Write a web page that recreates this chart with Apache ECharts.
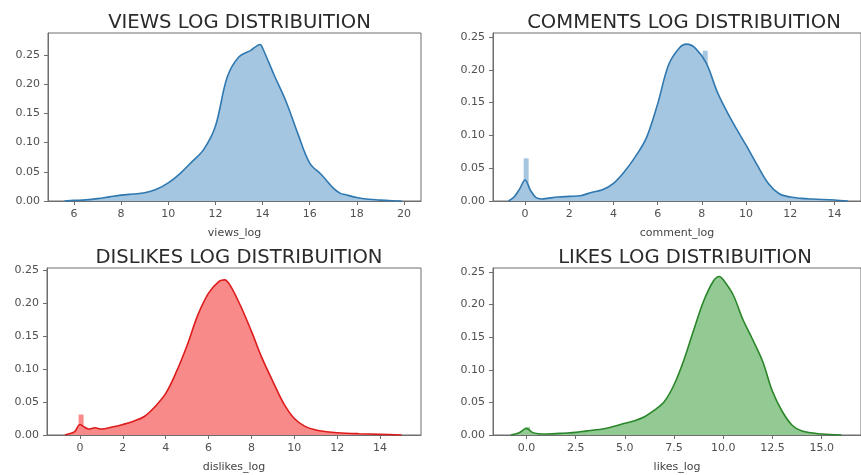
<!DOCTYPE html>
<html>
<head>
<meta charset="utf-8">
<script src="https://cdn.jsdelivr.net/npm/echarts@6/dist/echarts.min.js"></script>
<style>
html,body{margin:0;padding:0;background:#fff;}
#chart{width:861px;height:475px;}
</style>
</head>
<body>
<div id="chart"></div>
<script>
// ---- data ----
var titles = ['VIEWS LOG DISTRIBUITION', 'COMMENTS LOG DISTRIBUITION', 'DISLIKES LOG DISTRIBUITION', 'LIKES LOG DISTRIBUITION'];
var axisNames = ['views_log', 'comment_log', 'dislikes_log', 'likes_log'];

var viewsX = [5.6, 6.0, 6.5, 7.0, 7.5, 8.0, 8.5, 9.0, 9.5, 10.0, 10.5, 11.0, 11.5, 12.0, 12.5, 13.0, 13.5, 13.9, 14.0, 14.5, 15.0, 15.5, 16.0, 16.5, 17.0, 17.3, 17.5, 18.0, 18.5, 19.0, 19.5, 19.9];
var viewsY = [0, 0.001, 0.002, 0.004, 0.007, 0.010, 0.012, 0.014, 0.020, 0.031, 0.047, 0.067, 0.088, 0.128, 0.212, 0.247, 0.258, 0.268, 0.262, 0.215, 0.170, 0.115, 0.065, 0.045, 0.022, 0.013, 0.011, 0.006, 0.003, 0.0015, 0.0005, 0];

var commentsX = [-0.75, -0.5, -0.25, 0.0, 0.25, 0.5, 0.75, 1.0, 1.5, 2.0, 2.5, 3.0, 3.5, 4.0, 4.5, 5.0, 5.5, 6.0, 6.5, 7.0, 7.3, 7.7, 8.2, 8.7, 9.2, 9.6, 10.0, 10.5, 11.0, 11.5, 12.0, 12.5, 13.0, 14.0, 14.6];
var commentsY = [0, 0.006, 0.018, 0.032, 0.016, 0.005, 0.003, 0.004, 0.006, 0.007, 0.008, 0.013, 0.017, 0.027, 0.045, 0.068, 0.097, 0.148, 0.208, 0.234, 0.239, 0.233, 0.210, 0.166, 0.132, 0.108, 0.085, 0.055, 0.027, 0.011, 0.006, 0.004, 0.003, 0.0015, 0];

var dislikesX = [-0.7, -0.5, -0.25, 0.0, 0.2, 0.4, 0.7, 1.0, 1.5, 2.0, 2.5, 3.0, 3.5, 4.0, 4.5, 5.0, 5.5, 6.0, 6.5, 6.75, 7.0, 7.5, 8.0, 8.5, 9.0, 9.5, 10.0, 10.5, 11.0, 11.5, 12.0, 13.0, 14.0, 15.0];
var dislikesY = [0, 0.002, 0.005, 0.016, 0.012, 0.009, 0.011, 0.009, 0.012, 0.016, 0.021, 0.028, 0.043, 0.063, 0.096, 0.136, 0.182, 0.215, 0.233, 0.235, 0.227, 0.195, 0.157, 0.116, 0.081, 0.048, 0.025, 0.013, 0.0076, 0.005, 0.0035, 0.002, 0.001, 0];

var likesX = [-0.8, -0.4, 0.0, 0.3, 0.6, 1.0, 2.0, 2.5, 3.0, 4.0, 5.0, 5.5, 6.0, 6.5, 7.0, 7.5, 8.0, 8.5, 9.0, 9.5, 9.8, 10.0, 10.5, 11.0, 11.5, 12.0, 12.5, 13.0, 13.5, 14.0, 15.0, 16.0];
var likesY = [0, 0.003, 0.010, 0.004, 0.002, 0.0015, 0.003, 0.004, 0.006, 0.010, 0.018, 0.022, 0.028, 0.038, 0.051, 0.077, 0.115, 0.161, 0.205, 0.236, 0.243, 0.238, 0.215, 0.177, 0.146, 0.113, 0.067, 0.036, 0.015, 0.006, 0.0015, 0];

// histogram bins standing above the density curve
var commentsSpikeX = [0.05, 8.15];
var commentsSpikeY = [0.065, 0.229];
var dislikesSpikeX = [0.05];
var dislikesSpikeY = [0.031];
var likesSpikeX = [0.05];
var likesSpikeY = [0.012];

var yTicks = [0, 0.05, 0.10, 0.15, 0.20, 0.25];
var viewsTicks = [6, 8, 10, 12, 14, 16, 18, 20];
var commentsTicks = [0, 2, 4, 6, 8, 10, 12, 14];
var dislikesTicks = [0, 2, 4, 6, 8, 10, 12, 14];
var likesTicks = [0, 2.5, 5, 7.5, 10, 12.5, 15];

// ---- layout / styles ----
var panels = [
  {xs: viewsX, ys: viewsY, sx: [], sy: [], ticks: viewsTicks, dec: 0, xmin: 4.9, xmax: 20.72, ymax: 0.2877,
   grid: {left: 48, top: 33, width: 373, height: 168}, fill: '#a5c6e1', line: '#2f78b0'},
  {xs: commentsX, ys: commentsY, sx: commentsSpikeX, sy: commentsSpikeY, ticks: commentsTicks, dec: 0, xmin: -1.45, xmax: 15.2, ymax: 0.256,
   grid: {left: 493, top: 33, width: 372, height: 168}, fill: '#a5c6e1', line: '#2f78b0'},
  {xs: dislikesX, ys: dislikesY, sx: dislikesSpikeX, sy: dislikesSpikeY, ticks: dislikesTicks, dec: 0, xmin: -1.54, xmax: 15.91, ymax: 0.253,
   grid: {left: 47, top: 268, width: 374, height: 167}, fill: '#f98a8a', line: '#dd1c1c'},
  {xs: likesX, ys: likesY, sx: likesSpikeX, sy: likesSpikeY, ticks: likesTicks, dec: 1, xmin: -1.7, xmax: 17.0, ymax: 0.256,
   grid: {left: 493, top: 268, width: 374, height: 167}, fill: '#93c993', line: '#2a862a'}
];

var FONT = 'DejaVu Sans';
var axisColor = '#6e6e6e';
var labelColor = '#505050';

var option = {
  animation: false,
  backgroundColor: '#fff',
  title: [], grid: [], xAxis: [], yAxis: [], series: []
};

panels.forEach(function (p, i) {
  var g = p.grid;
  option.grid.push({left: g.left, top: g.top, width: g.width, height: g.height,
    show: true, borderColor: axisColor, borderWidth: 1, backgroundColor: 'transparent'});
  option.title.push({
    text: titles[i], left: g.left + g.width / 2, top: g.top - 25, textAlign: 'center',
    textStyle: {fontFamily: FONT, fontSize: 19.6, fontWeight: 'normal', color: '#2b2b2b'}
  });
  option.xAxis.push({
    type: 'value', gridIndex: i, min: p.xmin, max: p.xmax,
    name: axisNames[i], nameLocation: 'middle', nameGap: 27,
    nameTextStyle: {fontFamily: FONT, fontSize: 11, color: '#444'},
    axisLine: {show: true, onZero: false, lineStyle: {color: axisColor, width: 1}},
    axisTick: {show: true, length: 4, lineStyle: {color: axisColor}, customValues: p.ticks},
    axisLabel: {fontFamily: FONT, fontSize: 11, color: labelColor, margin: 8, customValues: p.ticks,
      formatter: (function (d) { return function (v) { return Number(v).toFixed(d); }; })(p.dec)},
    splitLine: {show: false}
  });
  option.yAxis.push({
    type: 'value', gridIndex: i, min: 0, max: p.ymax, position: 'left',
    axisLine: {show: true, onZero: false, lineStyle: {color: axisColor, width: 1}},
    axisTick: {show: true, length: 4, lineStyle: {color: axisColor}, customValues: yTicks},
    axisLabel: {fontFamily: FONT, fontSize: 11, color: labelColor, margin: 8, customValues: yTicks,
      formatter: function (v) { return Number(v).toFixed(2); }},
    splitLine: {show: false}
  });
  if (p.sx.length) {
    option.series.push({
      type: 'bar', xAxisIndex: i, yAxisIndex: i, barWidth: 5, z: 1,
      itemStyle: {color: p.fill},
      data: p.sx.map(function (x, k) { return [x, p.sy[k]]; })
    });
  }
  option.series.push({
    type: 'line', xAxisIndex: i, yAxisIndex: i, smooth: 0.35, showSymbol: false, z: 2,
    lineStyle: {color: p.line, width: 1.6},
    areaStyle: {color: p.fill, opacity: 1},
    data: p.xs.map(function (x, k) { return [x, p.ys[k]]; })
  });
});

var chart = echarts.init(document.getElementById('chart'), null, {renderer: 'canvas'});
chart.setOption(option);
</script>
</body>
</html>
